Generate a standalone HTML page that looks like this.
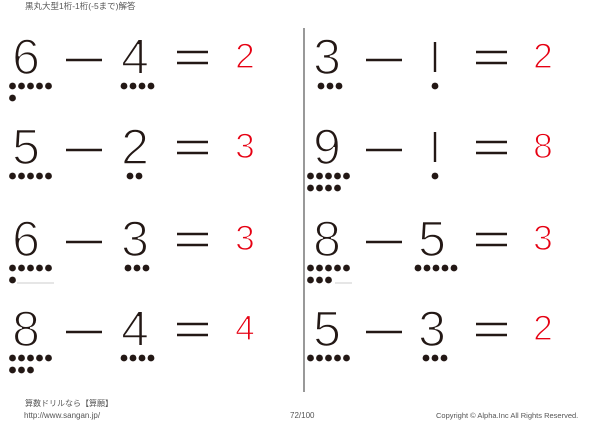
<!DOCTYPE html>
<html><head><meta charset="utf-8"><style>
html,body{margin:0;padding:0;background:#fff;width:600px;height:422px;overflow:hidden}
svg{display:block}
.d{font-family:"Liberation Sans",sans-serif;font-size:50px;fill:#231815;text-anchor:middle;stroke:#fff;stroke-width:1.6}
.a{font-family:"Liberation Sans",sans-serif;font-size:35px;fill:#e60012;text-anchor:middle;stroke:#fff;stroke-width:1.2}
.s{font-family:"Liberation Sans","Noto Sans CJK JP",sans-serif;font-size:8px;fill:#555}
</style></head><body>
<svg width="600" height="422" viewBox="0 0 600 422">
<defs>
<g id="r1"><circle cx="0" cy="0" r="3.4" fill="#231815"/></g>
<g id="r2"><use href="#r1"/><use href="#r1" x="9"/></g>
<g id="r3"><use href="#r2"/><use href="#r1" x="18"/></g>
<g id="r4"><use href="#r2"/><use href="#r2" x="18"/></g>
<g id="r5"><use href="#r4"/><use href="#r1" x="36"/></g>
<g id="ops"><line x1="0" y1="0" x2="36" y2="0" stroke="#231815" stroke-width="2.4"/></g>
<g id="eq"><line x1="0" y1="0" x2="31" y2="0" stroke="#231815" stroke-width="2.4"/><line x1="0" y1="11" x2="31" y2="11" stroke="#231815" stroke-width="2.4"/></g>
</defs>
<text x="25" y="9" class="s" style="font-size:8.5px">黒丸大型1桁-1桁(-5まで)解答</text>
<line x1="304" y1="28" x2="304" y2="392" stroke="#555" stroke-width="1.2"/>

<g transform="translate(0,0)">
<text x="26" y="74" class="d">6</text><use href="#ops" x="66" y="60"/><text x="135" y="74" class="d">4</text><use href="#eq" x="177" y="52"/><text x="245" y="68" class="a">2</text>
<use href="#r5" x="12.5" y="86"/><use href="#r1" x="12.5" y="98"/>
<use href="#r4" x="124" y="86"/>
</g>
<g transform="translate(0,90)">
<text x="26" y="74" class="d">5</text><use href="#ops" x="66" y="60"/><text x="135" y="74" class="d">2</text><use href="#eq" x="177" y="52"/><text x="245" y="68" class="a">3</text>
<use href="#r5" x="12.5" y="86"/>
<use href="#r2" x="130" y="86"/>
</g>
<g transform="translate(0,182)">
<text x="26" y="74" class="d">6</text><use href="#ops" x="66" y="60"/><text x="135" y="74" class="d">3</text><use href="#eq" x="177" y="52"/><text x="245" y="68" class="a">3</text>
<use href="#r5" x="12.5" y="86"/><use href="#r1" x="12.5" y="98"/>
<line x1="17" y1="101" x2="54" y2="101" stroke="#bbb" stroke-width="0.8"/>
<use href="#r3" x="128" y="86"/>
</g>
<g transform="translate(0,272)">
<text x="26" y="74" class="d">8</text><use href="#ops" x="66" y="60"/><text x="135" y="74" class="d">4</text><use href="#eq" x="177" y="52"/><text x="245" y="68" class="a">4</text>
<use href="#r5" x="12.5" y="86"/><use href="#r3" x="12.5" y="98"/>
<use href="#r4" x="124" y="86"/>
</g>

<g transform="translate(0,0)">
<text x="327" y="74" class="d">3</text><use href="#ops" x="366" y="60"/>
<line x1="435" y1="42" x2="435" y2="72" stroke="#231815" stroke-width="2.4"/>
<use href="#eq" x="476" y="52"/><text x="543" y="68" class="a">2</text>
<use href="#r3" x="321" y="86"/>
<use href="#r1" x="435" y="86"/>
</g>
<g transform="translate(0,90)">
<text x="327" y="74" class="d">9</text><use href="#ops" x="366" y="60"/>
<line x1="435" y1="42" x2="435" y2="72" stroke="#231815" stroke-width="2.4"/>
<use href="#eq" x="476" y="52"/><text x="543" y="68" class="a">8</text>
<use href="#r5" x="310.5" y="86"/><use href="#r4" x="310.5" y="98"/>
<use href="#r1" x="435" y="86"/>
</g>
<g transform="translate(0,182)">
<text x="327" y="74" class="d">8</text><use href="#ops" x="366" y="60"/><text x="432" y="74" class="d">5</text><use href="#eq" x="476" y="52"/><text x="543" y="68" class="a">3</text>
<use href="#r5" x="310.5" y="86"/><use href="#r3" x="310.5" y="98"/>
<line x1="335" y1="101" x2="352" y2="101" stroke="#bbb" stroke-width="0.8"/>
<use href="#r5" x="418" y="86"/>
</g>
<g transform="translate(0,272)">
<text x="327" y="74" class="d">5</text><use href="#ops" x="366" y="60"/><text x="432" y="74" class="d">3</text><use href="#eq" x="476" y="52"/><text x="543" y="68" class="a">2</text>
<use href="#r5" x="310.5" y="86"/>
<use href="#r3" x="426" y="86"/>
</g>

<text x="25" y="406" class="s">算数ドリルなら【算願】</text>
<text x="24" y="418" class="s">http://www.sangan.jp/</text>
<text x="290" y="418" class="s">72/100</text>
<text x="436" y="418" class="s" style="font-size:7.5px">Copyright © Alpha.Inc All Rights Reserved.</text>
</svg>
</body></html>
